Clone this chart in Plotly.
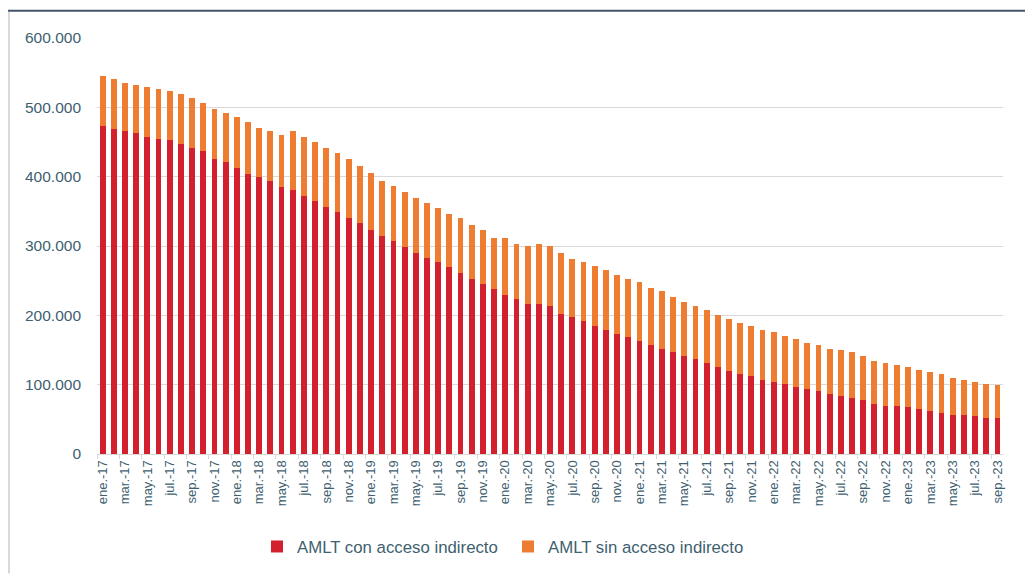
import plotly.graph_objects as go

meses = ["ene.", "feb.", "mar.", "abr.", "may.", "jun.", "jul.", "ago.", "sep.", "oct.", "nov.", "dic."]
anios = ["17", "18", "19", "20", "21", "22", "23"]
categorias = [f"{m}-{a}" for a in anios for m in meses][:81]

con_acceso = [
    473700, 468900, 466000, 463100, 457900, 455000, 452600, 446900, 441600, 436400,
    425800, 420500, 412400, 404300, 399000, 393800, 385600, 380800, 372700, 365000,
    356900, 349300, 341100, 333000, 322500, 314300, 306700, 298600, 290400, 282800,
    277000, 269400, 261200, 253100, 245400, 237300, 229200, 223900, 215800, 215800,
    213400, 202400, 197600, 192300, 184700, 178900, 173700, 168400, 162700, 157400,
    152100, 146900, 141600, 136400, 131100, 125800, 120100, 115000, 112400, 107000,
    104300, 101400, 96200, 93800, 90900, 86100, 83300, 80900, 78000, 72700,
    69900, 69900, 67500, 64600, 62200, 59300, 56900, 56900, 54100, 51700,
    51700,
]
sin_acceso = [
    71700, 71300, 68400, 68900, 71300, 71300, 71300, 71700, 71300, 69300,
    71300, 71300, 74200, 74600, 71800, 71700, 74200, 84700, 84700, 84700,
    84700, 85100, 84700, 82300, 82100, 79700, 79400, 79400, 79400, 79400,
    77100, 77000, 79400, 77000, 77100, 74200, 82300, 79400, 84900, 87500,
    87100, 87500, 84200, 84700, 87100, 87100, 84700, 84700, 85100, 82300,
    82300, 79400, 77000, 77000, 76500, 74200, 74600, 74400, 71800, 71700,
    71800, 69400, 69300, 66500, 66500, 66000, 66400, 66000, 63600, 61300,
    61200, 58300, 58300, 56000, 55500, 56000, 53100, 50300, 50200, 49700,
    47300,
]
y_ticks = [0, 100000, 200000, 300000, 400000, 500000, 600000]

texto = "#405f70"
rojo = "#d2202f"
naranja = "#ef7d31"
gris = "#d9d9d9"

fig = go.Figure()
fig.add_trace(go.Bar(x=categorias, y=con_acceso, name="AMLT con acceso indirecto",
                     marker=dict(color=rojo, line=dict(width=0))))
fig.add_trace(go.Bar(x=categorias, y=sin_acceso, name="AMLT sin acceso indirecto",
                     marker=dict(color=naranja, line=dict(width=0))))

OFF = 8  # page body margin
W, H = 1033 - OFF, 576 - OFF
# plot area in screen pixels: x 97..1003, y 38..456
L, T = 97 - OFF, 38 - OFF
R = W - (1003 - OFF)
B = H - (456 - OFF)
pw, ph = W - L - R, H - T - B

def px_x(p):
    return (p - OFF - L) / pw

def px_y(p):
    return (H - B - (p - OFF)) / ph

fig.update_layout(
    width=W, height=H,
    margin=dict(l=L, r=R, t=T, b=B, pad=0),
    barmode="stack", bargap=0.48,
    plot_bgcolor="white", paper_bgcolor="white",
    separators=",.",
    font=dict(family="Liberation Sans, Arial, sans-serif", color=texto, size=14),
    xaxis=dict(
        type="category", tickmode="linear", dtick=2, tick0=0,
        tickangle=-90, tickson="boundaries", ticks="outside", ticklen=4,
        tickcolor=gris, showline=True, linecolor=gris, linewidth=1,
        showgrid=False, tickfont=dict(size=13, color=texto),
        range=[-0.5, len(categorias) - 0.5],
    ),
    yaxis=dict(
        range=[0, 600000], tickvals=y_ticks, tickformat=",d",
        showgrid=True, gridcolor=gris, gridwidth=1.3,
        zeroline=False, showline=False, ticks="", ticklabelstandoff=15,
        tickfont=dict(size=15.5, color=texto),
    ),
    legend=dict(orientation="h", x=px_x(257), xanchor="left", y=px_y(549), yanchor="middle",
                font=dict(size=16.8, color=texto), traceorder="normal",
                itemwidth=30, entrywidth=206, entrywidthmode="pixels",
                bgcolor="rgba(0,0,0,0)"),
    shapes=[
        dict(type="line", xref="paper", yref="paper", x0=px_x(0), x1=px_x(1033), y0=px_y(10.5), y1=px_y(10.5),
             line=dict(color="#44546a", width=2)),
        dict(type="line", xref="paper", yref="paper", x0=px_x(9), x1=px_x(9), y0=px_y(12), y1=px_y(576),
             line=dict(color=gris, width=2)),
        dict(type="line", xref="paper", yref="paper", x0=px_x(1030), x1=px_x(1030), y0=px_y(12), y1=px_y(576),
             line=dict(color=gris, width=2)),
    ],
)

fig.write_html("out.html")
